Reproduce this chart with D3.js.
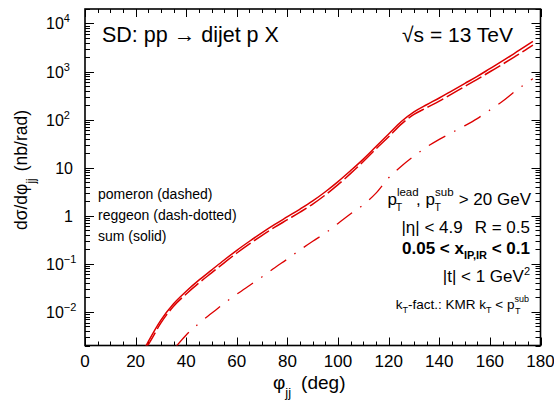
<!DOCTYPE html>
<html>
<head>
<meta charset="utf-8">
<script src="https://cdn.jsdelivr.net/npm/d3@7"></script>
<style>
  body { margin: 0; background: #fff; }
  svg { display: block; font-family: "Liberation Sans", Arial, Helvetica, sans-serif; }
</style>
</head>
<body>
<svg id="chart" width="554" height="409"></svg>
<script>
// Single-diffractive dijet cross section vs azimuthal angle between jets
const sumAngles = [24, 25, 30, 35, 40, 45, 50, 55, 60, 65, 70, 75, 80, 85, 90, 95, 100, 105, 110, 115, 120, 125, 130, 135, 140, 145, 150, 155, 160, 165, 170, 175, 177];
const sumValues = [0.00191, 0.0024, 0.00676, 0.0148, 0.0269, 0.0457, 0.0741, 0.120, 0.191, 0.295, 0.447, 0.661, 0.955, 1.38, 2.04, 3.16, 5.13, 8.71, 15.1, 27.5, 50.1, 91.2, 145, 204, 282, 398, 562, 794, 1148, 1660, 2455, 3631, 4266];

const pomeronAngles = [24, 25, 30, 35, 40, 45, 50, 55, 60, 65, 70, 75, 80, 85, 90, 95, 100, 105, 110, 115, 120, 125, 130, 135, 140, 145, 150, 155, 160, 165, 170, 175, 177];
const pomeronValues = [0.00178, 0.0021, 0.0059, 0.0131, 0.0236, 0.0399, 0.0648, 0.105, 0.168, 0.260, 0.393, 0.578, 0.829, 1.19, 1.75, 2.72, 4.44, 7.61, 13.4, 24.6, 43.9, 80.5, 128, 177, 243, 344, 488, 689, 990, 1420, 2066, 3028, 3558];

const reggeonAngles = [36, 40, 45, 50, 55, 60, 65, 70, 75, 80, 85, 90, 95, 100, 105, 110, 115, 120, 125, 130, 135, 140, 145, 150, 155, 160, 165, 170, 175, 177];
const reggeonValues = [0.00191, 0.00331, 0.00575, 0.00933, 0.0151, 0.0234, 0.0355, 0.0537, 0.0832, 0.126, 0.195, 0.295, 0.437, 0.692, 1.10, 1.70, 2.95, 6.17, 10.7, 17.4, 26.9, 38.9, 53.7, 74.1, 105, 158, 240, 389, 603, 708];

const xTickValues = [0, 20, 40, 60, 80, 100, 120, 140, 160, 180];
const yDecades = [-2, -1, 0, 1, 2, 3, 4];

const svg = d3.select("#chart");
const pLeft = 85, pRight = 540.5, pTop = 9, pBottom = 345.5;

const x = d3.scaleLinear().domain([0, 180]).range([pLeft, pRight]);
const y = d3.scaleLog().domain([0.002, 20000]).range([pBottom, pTop]);

svg.append("defs").append("clipPath").attr("id", "plotclip")
  .append("rect").attr("x", pLeft).attr("y", pTop).attr("width", pRight - pLeft).attr("height", pBottom - pTop);

// Ticks on all four sides, pointing inward
const tickG = svg.append("g").attr("stroke", "#000").attr("stroke-width", 1);
d3.range(0, 181, 5).forEach(v => {
  const len = v % 20 === 0 ? 8 : 4;
  const px = Math.round(x(v)) + 0.5;
  tickG.append("line").attr("x1", px).attr("x2", px).attr("y1", pBottom).attr("y2", pBottom - len);
  tickG.append("line").attr("x1", px).attr("x2", px).attr("y1", pTop).attr("y2", pTop + len);
});
const yTickVals = [];
for (let e = -3; e <= 4; e++) {
  for (let m = 1; m <= 9; m++) {
    const v = m * Math.pow(10, e);
    if (v >= 0.002 && v <= 20000) yTickVals.push({ v, major: m === 1 });
  }
}
yTickVals.forEach(t => {
  const len = t.major ? 9 : 5;
  const py = Math.round(y(t.v)) + 0.5;
  tickG.append("line").attr("x1", pLeft).attr("x2", pLeft + len).attr("y1", py).attr("y2", py);
  tickG.append("line").attr("x1", pRight).attr("x2", pRight - len).attr("y1", py).attr("y2", py);
});

// Frame
svg.append("rect").attr("x", pLeft).attr("y", pTop).attr("width", pRight - pLeft).attr("height", pBottom - pTop)
  .attr("fill", "none").attr("stroke", "#000").attr("stroke-width", 1.6);

// X tick labels
svg.append("g").selectAll("text").data(xTickValues).join("text")
  .attr("x", d => x(d)).attr("y", 367).attr("text-anchor", "middle")
  .attr("font-size", 17).text(d => d);

// Y tick labels
const yl = svg.append("g").attr("font-size", 16);
yDecades.forEach(e => {
  const py = y(Math.pow(10, e)) + 6;
  if (e === 0 || e === 1) {
    yl.append("text").attr("x", 73).attr("y", py).attr("text-anchor", "end").text(e === 0 ? "1" : "10");
  } else {
    const t = yl.append("text").attr("x", 46).attr("y", py);
    t.append("tspan").text("10");
    t.append("tspan").attr("dy", -7).attr("font-size", 11).text(e < 0 ? "\u2212" + (-e) : e);
  }
});

// Axis titles
const xt = svg.append("text").attr("x", 273).attr("y", 389).attr("font-size", 19);
xt.append("tspan").text("\u03c6");
xt.append("tspan").attr("dy", 8).attr("font-size", 13).text("jj");
xt.append("tspan").attr("dy", -8).attr("dx", 10).text("(deg)");

const yt = svg.append("text").attr("transform", "translate(27,170) rotate(-90)")
  .attr("font-size", 17.5).attr("text-anchor", "middle");
yt.append("tspan").text("d\u03c3/d\u03c6");
yt.append("tspan").attr("dy", 8).attr("font-size", 12).text("jj");
yt.append("tspan").attr("dy", -8).attr("dx", 7).text("(nb/rad)");

// Curves
const line = d3.line().x(d => x(d[0])).y(d => y(d[1])).curve(d3.curveMonotoneX);
const curves = svg.append("g").attr("clip-path", "url(#plotclip)").attr("fill", "none").attr("stroke", "#dd0000");
curves.append("path").datum(d3.zip(pomeronAngles, pomeronValues)).attr("d", line)
  .attr("stroke-width", 1.5).attr("stroke-dasharray", "18,4");
curves.append("path").datum(d3.zip(reggeonAngles, reggeonValues)).attr("d", line)
  .attr("stroke-width", 1.3).attr("stroke-dasharray", "19,10,1.5,10");
curves.append("path").datum(d3.zip(sumAngles, sumValues)).attr("d", line)
  .attr("stroke-width", 1.5);

// Header texts
svg.append("text").attr("x", 102).attr("y", 42).attr("font-size", 21.5).text("SD: pp \u2192 dijet p X");
svg.append("text").attr("x", 513).attr("y", 42).attr("font-size", 21).attr("text-anchor", "end").text("\u221as = 13 TeV");

// Legend descriptions
const legend = svg.append("g").attr("font-size", 14);
legend.append("text").attr("x", 98).attr("y", 199).text("pomeron (dashed)");
legend.append("text").attr("x", 98).attr("y", 220).text("reggeon (dash-dotted)");
legend.append("text").attr("x", 98).attr("y", 241).text("sum (solid)");

// Kinematic cuts
const cuts = svg.append("g").attr("font-size", 17).attr("text-anchor", "end");
const c1 = cuts.append("text").attr("x", 531).attr("y", 205);
c1.append("tspan").text("p");
c1.append("tspan").attr("dy", -9).attr("font-size", 11.5).text("lead");
c1.append("tspan").attr("dx", -23).attr("dy", 15).attr("font-size", 10.5).text("T");
c1.append("tspan").attr("dx", 14).attr("dy", -6).text(", p");
c1.append("tspan").attr("dy", -9).attr("font-size", 11.5).text("sub");
c1.append("tspan").attr("dx", -19).attr("dy", 15).attr("font-size", 10.5).text("T");
c1.append("tspan").attr("dx", 13).attr("dy", -6).text(" > 20 GeV");

const c2 = cuts.append("text").attr("x", 530).attr("y", 233);
c2.append("tspan").text("|\u03b7| < 4.9");
c2.append("tspan").attr("dx", 12).text("R = 0.5");

const c3 = cuts.append("text").attr("x", 530).attr("y", 254).attr("font-weight", "bold");
c3.append("tspan").text("0.05 < x");
c3.append("tspan").attr("dy", 5).attr("font-size", 11).text("IP,IR");
c3.append("tspan").attr("dy", -5).text(" < 0.1");

const c4 = cuts.append("text").attr("x", 530).attr("y", 282);
c4.append("tspan").text("|t| < 1 GeV");
c4.append("tspan").attr("dy", -7).attr("font-size", 11).text("2");

const c5 = cuts.append("text").attr("x", 529).attr("y", 309).attr("font-size", 13.5);
c5.append("tspan").text("k");
c5.append("tspan").attr("dy", 4).attr("font-size", 9).text("T");
c5.append("tspan").attr("dy", -4).text("-fact.: KMR k");
c5.append("tspan").attr("dy", 4).attr("font-size", 9).text("T");
c5.append("tspan").attr("dy", -4).text(" < p");
c5.append("tspan").attr("dy", -7).attr("font-size", 9).text("sub");
c5.append("tspan").attr("dx", -14).attr("dy", 12).attr("font-size", 9).text("T");
</script>
</body>
</html>
